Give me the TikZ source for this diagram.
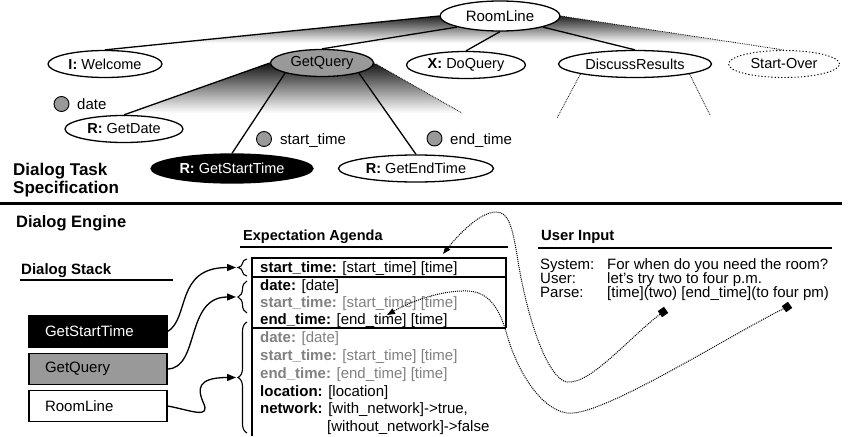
\documentclass[tikz,border=0pt]{standalone}
\usepackage{fontspec}
\setmainfont{Liberation Sans}
\usetikzlibrary{shapes.geometric,arrows.meta,decorations.pathreplacing,backgrounds}
\newcommand\fsz[1]{\fontsize{#1}{#1}\selectfont}
\begin{document}
\begin{tikzpicture}[x=1pt,y=-1pt,
  every node/.style={inner sep=0pt},
  font=\fsz{15},
  tn/.style={ellipse, draw, line width=1.3pt, fill=white, minimum height=27pt, inner sep=0pt, font=\fsz{14.5}},
  slot/.style={circle, draw, line width=0.9pt, fill=black!40, minimum size=15pt},
  tline/.style={line width=1.3pt},
  dline/.style={line width=0.8pt, densely dotted},
  stk/.style={rectangle, draw, line width=1.3pt, minimum width=138pt, minimum height=31pt, text width=106pt, inner xsep=16pt, align=left},
  agrow/.style={anchor=base west, inner sep=0pt},
  faded/.style={text=black!50},
  abox/.style={line width=1.3pt},
  uline/.style={line width=1.6pt},
  brc/.style={decorate, decoration={brace, amplitude=9pt}, line width=1.1pt},
  sarrow/.style={line width=1.3pt, -{Triangle[length=9pt,width=7pt]}},
  pcurve/.style={line width=1pt, densely dotted, -{Triangle[length=8pt,width=6pt]}},
  sqm/.style={rectangle, fill=black, minimum size=7.5pt, rotate=35},
  hd/.style={anchor=base west, font=\bfseries\fsz{15}}
]
\useasboundingbox (0,0) rectangle (850,436);

% ---------- task tree ----------
\node[tn, minimum width=120pt, minimum height=30pt, font=\fsz{15}] (room) at (500,16) {RoomLine};
\node[tn, minimum width=114pt] (welcome) at (105,64) {\textbf{I:} Welcome};
\node[tn, fill=black!40, minimum width=103pt] (gq) at (322,63) {GetQuery};
\node[tn, minimum width=119pt] (doq) at (466,65) {\textbf{X:} DoQuery};
\node[tn, minimum width=153pt] (disc) at (635,64) {DiscussResults};
\node[tn, dotted, line width=0.9pt, minimum width=111pt] (so) at (784,64) {Start-Over};
\node[tn, minimum width=118pt] (gdate) at (124,129) {\textbf{R:} GetDate};
\node[tn, fill=black, text=white, minimum width=162pt, minimum height=29pt] (gst) at (232,168.5) {\textbf{R:} GetStartTime};
\node[tn, minimum width=155pt] (get) at (416,168.5) {\textbf{R:} GetEndTime};

\coordinate (gqd) at (462,113);
\coordinate (dr1) at (557,118);
\coordinate (dr2) at (710,115);

\begin{scope}[on background layer]
  \begin{scope}
    \clip (room.west) -- (welcome.north) -- (so.north) -- (room.east) -- cycle;
    \shade[top color=black!90, bottom color=white] (0,15) rectangle (850,43);
  \end{scope}
  \begin{scope}
    \clip (gq.west) -- (gdate.north) -- (gqd) -- (gq.east) -- cycle;
    \shade[top color=black!90, bottom color=white] (100,64) rectangle (480,113);
  \end{scope}
\end{scope}

\draw[tline] (room.west) -- (welcome.north);
\draw[tline] (room.south west) -- (gq.north);
\draw[tline] (room.south) -- (doq.north);
\draw[tline] (room.south east) -- (disc.north);
\draw[dline] (room.east) -- (so.north);
\draw[tline] (gq.west) -- (gdate.north);
\draw[tline] (gq.south west) -- (gst.north);
\draw[tline] (gq.south east) -- (get.north);
\draw[dline] (gq.east) -- (gqd);
\draw[dline] (disc.south west) -- (dr1);
\draw[dline] (disc.south east) -- (dr2);

\node[slot] (sdate) at (61.5,104) {};
\node[agrow] (ldate) at (77,109.5) {date};
\node[slot] (sst) at (264,139) {};
\node[agrow] (lst) at (280,144) {start\_time};
\node[slot] (set) at (434.5,138.5) {};
\node[agrow] (let) at (450,144) {end\_time};

\node[hd, font=\bfseries\fsz{17}] (dts1) at (13,175) {Dialog Task};
\node[hd, font=\bfseries\fsz{17}] (dts2) at (13,193) {Specification};

\draw[line width=3pt] (0,203) -- (842,203);

% ---------- dialog engine ----------
\node[hd, font=\bfseries\fsz{16.5}] (de) at (16,227) {Dialog Engine};
\node[hd, font=\bfseries\fsz{14.5}] (ea) at (243,240) {Expectation Agenda};
\draw[uline] (240,247) -- (508,247);
\node[hd] (ds) at (21,274) {Dialog Stack};
\draw[uline] (20,280) -- (173,280);
\node[hd, font=\bfseries\fsz{14.8}] (ui) at (541,240) {User Input};
\draw[uline] (538,248) -- (832,248);

% stack
\node[stk, fill=black, text=white] (s1) at (98,331.5) {GetStartTime};
\node[stk, fill=black!40] (s2) at (98,369) {GetQuery};
\node[stk, fill=white] (s3) at (98,406) {RoomLine};

% agenda box
\draw[abox] (252,436) -- (252,258) -- (506,258) -- (506,328);
\draw[abox] (252,277) -- (506,277);
\draw[abox] (252,328) -- (506,328);

\node[agrow] (r1) at (260,272) {\textbf{start\_time:} [start\_time] [time]};
\node[agrow] (r2) at (260,290) {\textbf{date:} [date]};
\node[agrow, faded] (r3) at (260,307) {\textbf{start\_time:} [start\_time] [time]};
\node[agrow] (r4) at (260,324) {\textbf{end\_time:} [end\_time] [time]};
\node[agrow, faded] (r5) at (260,342) {\textbf{date:} [date]};
\node[agrow, faded] (r6) at (260,360) {\textbf{start\_time:} [start\_time] [time]};
\node[agrow, faded] (r7) at (260,378) {\textbf{end\_time:} [end\_time] [time]};
\node[agrow] (r8) at (260,396) {\textbf{location:} [location]};
\node[agrow] (r9) at (260,413) {\textbf{network:} [with\_network]->true,};
\node[agrow] (r10) at (327,431) {[without\_network]->false};

% braces
\draw[brc] (247,276) -- (247,259);
\draw[brc] (247,313) -- (247,281);
\draw[brc] (247,433) -- (247,322);
\coordinate (b1) at (236,267.5);
\coordinate (b2) at (236,297);
\coordinate (b3) at (236,377.5);

\draw[sarrow] (s1.east) .. controls (190,318) and (175,267.5) .. (b1);
\draw[sarrow] (s2.east) .. controls (200,368) and (185,297) .. (b2);
\draw[sarrow] (s3.east) .. controls (190,410) and (212,420) .. (203,402) .. controls (198,390) and (196,377.5) .. (b3);

% user input
\node[agrow] (sys) at (540,269) {System:};
\node[agrow] (sysq) at (607,269) {For when do you need the room?};
\node[agrow] (usr) at (540,283) {User:};
\node[agrow] (usra) at (607,283) {let’s try two to four p.m.};
\node[agrow] (prs) at (540,297) {Parse:};
\node[agrow] (prsa) at (607,297) {[time](two) [end\_time](to four pm)};

\node[sqm] (m1) at (663,312) {};
\node[sqm] (m2) at (787,307) {};
\coordinate (a1) at (443,254);
\coordinate (a2) at (387,315);

\draw[pcurve] (m1) .. controls (630,337) and (590,385) .. (567,382) .. controls (548,379) and (527,320) .. (517,255) .. controls (512,225) and (508,212) .. (496,212) .. controls (480,212) and (458,235) .. (a1);
\draw[pcurve] (m2) .. controls (730,335) and (600,418) .. (567,413) .. controls (540,409) and (517,370) .. (507,335) .. controls (500,310) and (490,292) .. (468,291) .. controls (440,290) and (410,302) .. (a2);
\end{tikzpicture}
\end{document}
